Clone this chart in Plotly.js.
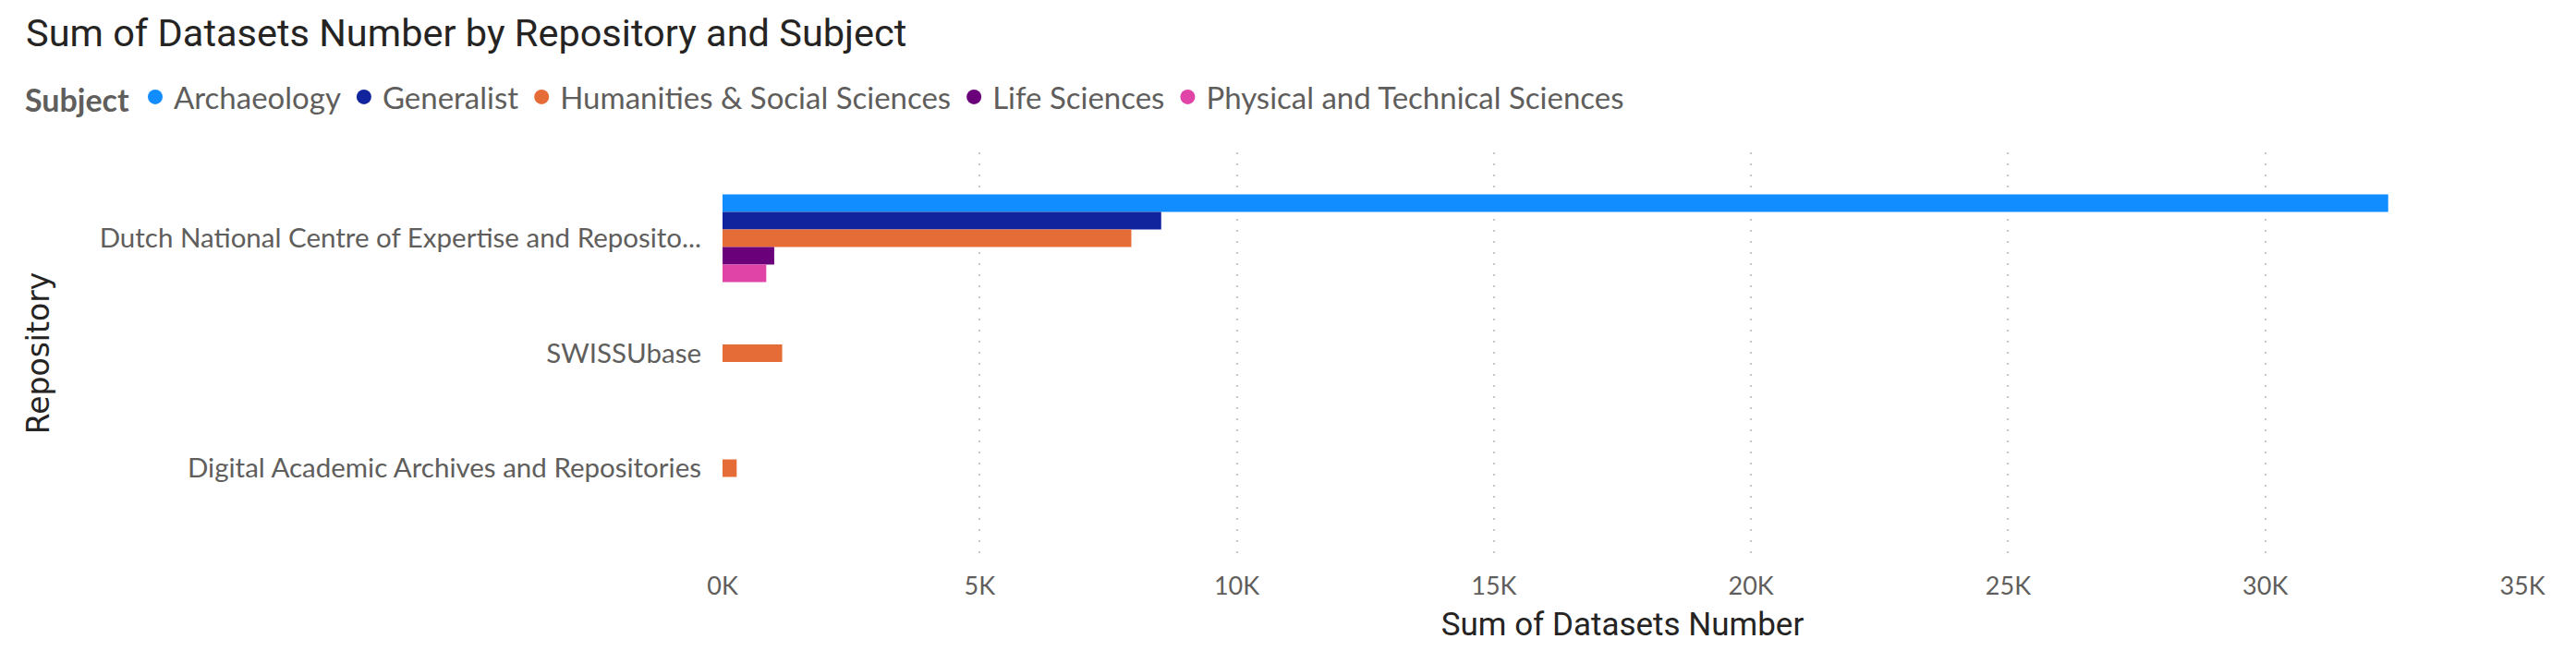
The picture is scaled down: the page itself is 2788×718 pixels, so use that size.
<!DOCTYPE html>
<html>
<head>
<meta charset="utf-8">
<script src="https://cdn.plot.ly/plotly-3.0.1.min.js"></script>
<style>
  html, body { margin: 0; padding: 0; background: #fff; }
  #plotly { width: 2788px; height: 718px; }
</style>
</head>
<body>
<div id="plotly"></div>
<script>
// repositories, top to bottom
const repositories = [
  'Dutch National Centre of Expertise and Repository for Research Data',
  'SWISSUbase',
  'Digital Academic Archives and Repositories'
];
const repoLabels = [
  'Dutch National Centre of Expertise and Reposito...',
  'SWISSUbase',
  'Digital Academic Archives and Repositories'
];

const subjects = ['Archaeology', 'Generalist', 'Humanities & Social Sciences', 'Life Sciences', 'Physical and Technical Sciences'];
const subjectColors = ['#118DFF', '#12239E', '#E66C37', '#6B007B', '#E044A7'];

// datasets per subject, one value per repository (null = none)
const archaeology = [32390, null, null];
const generalist = [8530, null, null];
const humanities = [7950, 1160, 275];
const lifeSciences = [1005, null, null];
const physicalTechnical = [850, null, null];
const seriesValues = [archaeology, generalist, humanities, lifeSciences, physicalTechnical];

const xTickVals = [0, 5000, 10000, 15000, 20000, 25000, 30000, 35000];
const xTickText = ['0K', '5K', '10K', '15K', '20K', '25K', '30K', '35K'];

const data = [];
subjects.forEach((name, i) => {
  data.push({
    type: 'bar',
    orientation: 'h',
    name: name,
    x: seriesValues[i],
    y: repositories,
    marker: { color: subjectColors[i], line: { width: 0 } },
    showlegend: false,
    hoverinfo: 'x+name'
  });
});
// round legend markers, like the original
subjects.forEach((name, i) => {
  data.push({
    type: 'scatter',
    mode: 'markers',
    name: name,
    x: [null],
    y: [null],
    marker: { color: subjectColors[i], size: 24, symbol: 'circle' },
    hoverinfo: 'skip'
  });
});

const layout = {
  width: 2788,
  height: 718,
  paper_bgcolor: '#fff',
  plot_bgcolor: '#fff',
  margin: { l: 782, r: 58, t: 165, b: 118 },
  barmode: 'group',
  bargap: 0.237,
  bargroupgap: 0,
  title: {
    text: 'Sum of Datasets Number by Repository and Subject',
    font: { family: 'Roboto', size: 41.5, color: '#252423' },
    xref: 'container', yref: 'container',
    x: 28 / 2788, xanchor: 'left',
    y: 1 - 35 / 718, yanchor: 'middle'
  },
  legend: {
    orientation: 'h',
    xref: 'container', yref: 'container',
    x: 25 / 2788, xanchor: 'left',
    y: 1 - 105 / 718, yanchor: 'middle',
    title: { text: '<b>Subject</b>', side: 'left', font: { family: 'Lato', size: 34, color: '#605E5C' } },
    font: { family: 'Lato', size: 33, color: '#605E5C' },
    itemwidth: 30,
    bgcolor: 'rgba(0,0,0,0)'
  },
  xaxis: {
    range: [0, 35000],
    tickvals: xTickVals,
    ticktext: xTickText,
    showgrid: true,
    gridcolor: '#C8C6C4',
    gridwidth: 2,
    griddash: '2px,10px',
    zeroline: false,
    showline: false,
    ticks: '',
    ticklabelstandoff: 16,
    tickfont: { family: 'Lato', size: 27, color: '#605E5C' },
    automargin: false,
    title: {
      text: 'Sum of Datasets Number',
      font: { family: 'Roboto', size: 35, color: '#252423' },
      standoff: 14
    }
  },
  yaxis: {
    type: 'category',
    categoryorder: 'array',
    categoryarray: repositories,
    tickvals: repositories,
    ticktext: repoLabels,
    range: [2.747, -0.747],
    showgrid: false,
    zeroline: false,
    showline: false,
    ticks: '',
    ticklabelstandoff: 22,
    tickfont: { family: 'Lato', size: 29.5, color: '#605E5C' },
    automargin: false,
    title: {
      text: 'Repository',
      font: { family: 'DejaVu Sans', size: 33, color: '#252423' },
      standoff: 44
    }
  }
};

const options = { displayModeBar: false, responsive: false };

Plotly.newPlot(document.getElementById('plotly'), data, layout, options);
</script>
</body>
</html>
